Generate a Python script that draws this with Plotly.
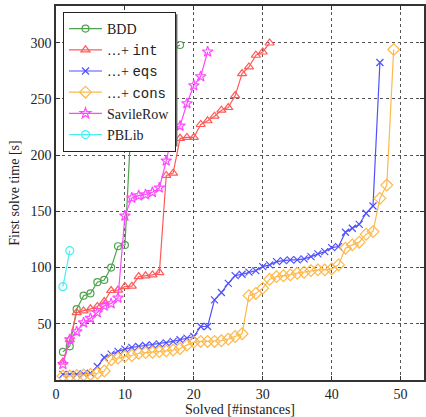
import plotly.graph_objects as go

# ---- data ----
bdd_x = list(range(1, 19))
bdd_y = [25, 30, 63, 75, 77, 87, 89, 100, 119, 120, 240, 252, 262, 270, 278, 287, 295, 298]

int_x = list(range(1, 32))
int_y = [16, 36, 60, 61.5, 63.3, 65.4, 69.8, 79.6, 80, 83.1, 83.5, 92, 92.7, 93.5, 95.6,
         182, 184, 215, 215.8, 215.8, 227.3, 230.6, 234.7, 240, 242.4, 253, 272.6, 278.5,
         288.9, 291.8, 299.8]

eqs_x = list(range(1, 48))
eqs_y = [5, 5, 5, 5.5, 6, 12, 20, 23, 25.5, 27.5, 29, 29.8, 30.7, 31.3, 32.2, 33, 34.3,
         35.8, 37.3, 38.7, 47.6, 47.6, 71.3, 77.8, 86, 92.9, 94.1, 95.9, 97.3, 100.9,
         102.4, 105.3, 106.2, 106.8, 106.8, 107.7, 109.8, 112.2, 114.2, 117.8, 118.7,
         131.4, 135, 138.5, 148.3, 154.8, 282.4]

cons_x = list(range(1, 50))
cons_y = [3.5, 3.5, 4, 4.5, 5, 6, 8, 18, 19.5, 21, 21.8, 23.8, 24.4, 24.7, 25.3, 25.9,
          26.7, 28, 31, 33.7, 34.3, 34.3, 34.3, 34.9, 36.4, 38.7, 41.1, 75.1, 77, 81.7,
          89.6, 92, 92.7, 93.5, 95, 95.9, 97.3, 98, 98, 98.8, 102.4, 117.2, 120.2, 122.6,
          129.7, 132, 161.6, 173.4, 294]

sav_x = list(range(1, 23))
sav_y = [14, 36, 43, 51, 55, 60, 66, 68, 73, 146, 162, 164, 165, 167, 171, 195, 222,
         226, 246, 262, 270, 292]

pb_x = [1, 2]
pb_y = [83, 115]

x_ticks = [0, 10, 20, 30, 40, 50]
y_ticks = [50, 100, 150, 200, 250, 300]

SERIF = "Liberation Serif, Times New Roman, DejaVu Serif, serif"
mono = "font-family:Liberation Mono, DejaVu Sans Mono, monospace"
series = [
    ("BDD", bdd_x, bdd_y, "#4fa34f", "circle-open", 7),
    ("\u2026+ <span style=\"" + mono + "\">int</span>", int_x, int_y, "#ff5a5a", "triangle-up-open", 8),
    ("\u2026+ <span style=\"" + mono + "\">eqs</span>", eqs_x, eqs_y, "#5050ff", "x-thin-open", 7),
    ("\u2026+ <span style=\"" + mono + "\">cons</span>", cons_x, cons_y, "#ffb84a", "diamond-open", 9),
    ("SavileRow", sav_x, sav_y, "#ff48ff", "star-open", 8),
    ("PBLib", pb_x, pb_y, "#48f0f0", "circle-open", 8),
]

fig = go.Figure()
for name, xs, ys, col, sym, sz in series:
    fig.add_trace(go.Scatter(
        x=xs, y=ys, name=name, mode="lines+markers",
        line=dict(color=col, width=1.2),
        marker=dict(symbol=sym, size=sz, color=col, line=dict(color=col, width=1.2)),
    ))

axis_common = dict(
    showgrid=True, gridcolor="#555555", griddash="dot", gridwidth=1,
    showline=True, linecolor="#333333", linewidth=1.5, mirror="allticks",
    ticks="inside", ticklen=4, tickcolor="#333333",
    zeroline=False,
    tickfont=dict(family=SERIF, size=14, color="#222222"),
)

fig.update_xaxes(range=[0, 53.4], tickvals=x_ticks,
                 title=dict(text="Solved [#instances]", standoff=2,
                            font=dict(family=SERIF, size=14, color="#222222")),
                 **axis_common)
fig.update_yaxes(range=[0, 332.7], tickvals=y_ticks,
                 title=dict(text="First solve time [s]", standoff=8,
                            font=dict(family=SERIF, size=14, color="#222222")),
                 **axis_common)

# legend shadow
fig.add_shape(type="rect", xref="paper", yref="paper",
              x0=0.025, x1=0.33, y0=0.624, y1=0.978,
              fillcolor="#666666", line=dict(width=0), layer="above")

fig.update_layout(
    width=426, height=417,
    margin=dict(l=56, r=0, t=6, b=37),
    paper_bgcolor="white", plot_bgcolor="white",
    font=dict(family=SERIF, size=14, color="#222222"),
    legend=dict(x=0.019, y=0.984, xanchor="left", yanchor="top",
                bgcolor="white", bordercolor="#222222", borderwidth=1,
                font=dict(family=SERIF, size=14, color="#222222"),
                itemwidth=33, tracegroupgap=0),
    showlegend=True,
)

fig.write_html("out.html", config={"displayModeBar": False},
               post_script="document.body.style.margin='0';")
